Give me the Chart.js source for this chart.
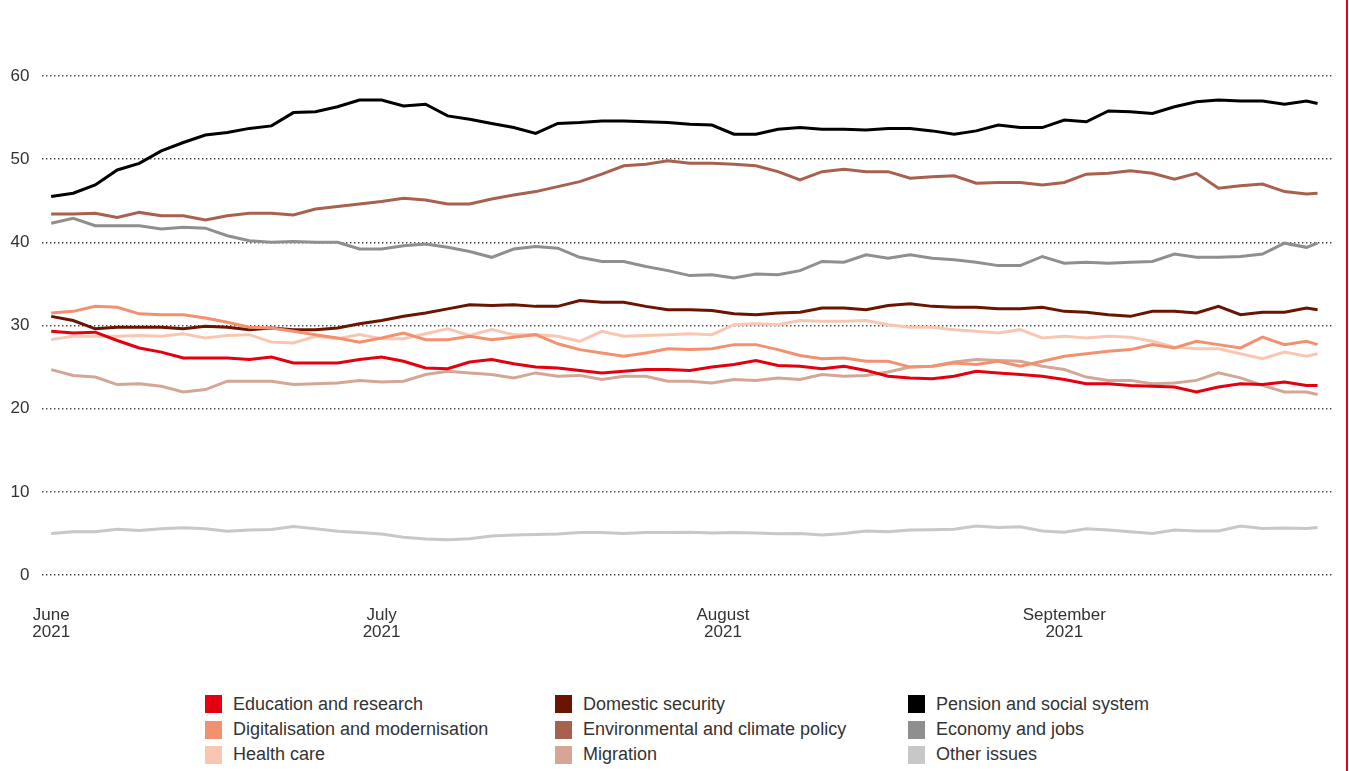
<!DOCTYPE html>
<html><head><meta charset="utf-8">
<script src="https://cdn.jsdelivr.net/npm/chart.js@4/dist/chart.umd.min.js"></script>
<style>
html,body{margin:0;padding:0;background:#fff;width:1349px;height:771px;overflow:hidden;font-family:"Liberation Sans",Arial,sans-serif;}
#wrap{position:absolute;left:0;top:0;width:1349px;height:680px;}
#redline{position:absolute;left:1346px;top:0;width:2px;height:771px;background:#e4001b;}
.li{position:absolute;height:20px;display:flex;align-items:center;font-size:18px;color:#333;white-space:nowrap;}
.li .box{display:inline-block;width:17px;height:18px;margin-right:11px;}
</style></head><body>
<div id="wrap"><canvas id="c" width="1349" height="680"></canvas></div>
<div id="redline"></div>
<div id="legend"></div>
<script>
// x positions: days since 1 June 2021
const days = [0,2,4,6,8,10,12,14,16,18,20,22,24,26,28,30,32,34,36,38,40,42,44,46,48,50,52,54,56,58,60,62,64,66,68,70,72,74,76,78,80,82,84,86,88,90,92,94,96,98,100,102,104,106,108,110,112,114,115];
const tickDays = [0,30,61,92];
const tickLabels = [["June","2021"],["July","2021"],["August","2021"],["September","2021"]];

const seriesNames = ["Education and research","Digitalisation and modernisation","Health care","Domestic security","Environmental and climate policy","Migration","Pension and social system","Economy and jobs","Other issues"];
const seriesColors = ["#e3000f","#f2916f","#f9c6b1","#6b1400","#a8604f","#d3a696","#000000","#8f8f8f","#c8c8c8"];
const legendColumns = [["Education and research","Digitalisation and modernisation","Health care"],["Domestic security","Environmental and climate policy","Migration"],["Pension and social system","Economy and jobs","Other issues"]];

const education = [29.3,29.1,29.2,28.2,27.3,26.8,26.1,26.1,26.1,25.9,26.2,25.5,25.5,25.5,25.9,26.2,25.7,24.9,24.8,25.6,25.9,25.4,25.0,24.9,24.6,24.3,24.5,24.7,24.7,24.6,25.0,25.3,25.8,25.2,25.1,24.8,25.1,24.6,23.9,23.7,23.6,23.9,24.5,24.3,24.1,23.9,23.5,23.0,23.0,22.8,22.7,22.6,22.0,22.6,23.0,22.9,23.2,22.8,22.8];
const digitalisation = [31.5,31.7,32.3,32.2,31.4,31.3,31.3,30.9,30.4,29.8,29.7,29.3,28.9,28.5,28.0,28.5,29.1,28.3,28.3,28.7,28.3,28.6,28.9,27.8,27.1,26.7,26.3,26.7,27.2,27.1,27.2,27.7,27.7,27.1,26.4,26.0,26.1,25.7,25.7,25.0,25.1,25.5,25.3,25.7,25.1,25.7,26.3,26.6,26.9,27.1,27.7,27.3,28.1,27.7,27.3,28.6,27.7,28.1,27.7];
const healthCare = [28.3,28.7,28.7,28.7,28.8,28.7,29.0,28.5,28.8,28.9,28.0,27.9,28.7,28.4,28.9,28.4,28.4,29.0,29.6,28.8,29.5,28.9,28.9,28.7,28.1,29.3,28.7,28.8,28.9,29.0,28.9,30.1,30.2,30.1,30.6,30.5,30.5,30.6,30.1,29.8,29.8,29.5,29.3,29.1,29.5,28.5,28.7,28.5,28.7,28.6,28.1,27.4,27.2,27.2,26.6,26.0,26.8,26.3,26.6];
const domesticSecurity = [31.1,30.6,29.6,29.8,29.8,29.8,29.6,29.9,29.8,29.5,29.7,29.5,29.5,29.7,30.2,30.6,31.1,31.5,32.0,32.5,32.4,32.5,32.3,32.3,33.0,32.8,32.8,32.3,31.9,31.9,31.8,31.4,31.3,31.5,31.6,32.1,32.1,31.9,32.4,32.6,32.3,32.2,32.2,32.0,32.0,32.2,31.7,31.6,31.3,31.1,31.7,31.7,31.5,32.3,31.3,31.6,31.6,32.1,31.9];
const environment = [43.4,43.4,43.5,43.0,43.6,43.2,43.2,42.7,43.2,43.5,43.5,43.3,44.0,44.3,44.6,44.9,45.3,45.1,44.6,44.6,45.2,45.7,46.1,46.7,47.3,48.2,49.2,49.4,49.8,49.5,49.5,49.4,49.2,48.5,47.5,48.5,48.8,48.5,48.5,47.7,47.9,48.0,47.1,47.2,47.2,46.9,47.2,48.2,48.3,48.6,48.3,47.6,48.3,46.5,46.8,47.0,46.1,45.8,45.9];
const migration = [24.7,24.0,23.8,22.9,23.0,22.7,22.0,22.3,23.3,23.3,23.3,22.9,23.0,23.1,23.4,23.2,23.3,24.1,24.5,24.3,24.1,23.7,24.3,23.9,24.0,23.5,23.9,23.9,23.3,23.3,23.1,23.5,23.4,23.7,23.5,24.1,23.9,24.0,24.4,25.0,25.1,25.6,25.9,25.8,25.7,25.1,24.7,23.8,23.4,23.4,23.0,23.1,23.4,24.3,23.7,22.8,22.0,22.0,21.7];
const pension = [45.5,45.9,46.9,48.7,49.5,51.0,52.0,52.9,53.2,53.7,54.0,55.6,55.7,56.3,57.1,57.1,56.4,56.6,55.2,54.8,54.3,53.8,53.1,54.3,54.4,54.6,54.6,54.5,54.4,54.2,54.1,53.0,53.0,53.6,53.8,53.6,53.6,53.5,53.7,53.7,53.4,53.0,53.4,54.1,53.8,53.8,54.7,54.5,55.8,55.7,55.5,56.3,56.9,57.1,57.0,57.0,56.6,57.0,56.7];
const economy = [42.3,42.9,42.0,42.0,42.0,41.6,41.8,41.7,40.8,40.2,40.0,40.1,40.0,40.0,39.2,39.2,39.6,39.8,39.4,38.9,38.2,39.2,39.5,39.3,38.2,37.7,37.7,37.1,36.6,36.0,36.1,35.7,36.2,36.1,36.6,37.7,37.6,38.5,38.1,38.5,38.1,37.9,37.6,37.2,37.2,38.3,37.5,37.6,37.5,37.6,37.7,38.6,38.2,38.2,38.3,38.6,39.9,39.4,39.9];
const otherIssues = [5.0,5.2,5.2,5.5,5.35,5.55,5.68,5.55,5.27,5.4,5.47,5.84,5.55,5.27,5.1,4.94,4.53,4.32,4.24,4.36,4.69,4.81,4.86,4.94,5.1,5.1,5.0,5.1,5.1,5.14,5.05,5.12,5.05,4.95,5.0,4.8,5.0,5.28,5.2,5.4,5.45,5.5,5.9,5.7,5.8,5.3,5.15,5.55,5.4,5.2,5.0,5.4,5.3,5.3,5.9,5.6,5.65,5.6,5.7];

const seriesValues = [education,digitalisation,healthCare,domesticSecurity,environment,migration,pension,economy,otherIssues];

const FONT = '"Liberation Sans", Arial, sans-serif';
const datasets = seriesNames.map((name,i)=>({
  label:name,
  data: days.map((d,j)=>({x:d,y:seriesValues[i][j]})),
  borderColor: seriesColors[i],
  backgroundColor: seriesColors[i],
  borderWidth: 3,
  pointRadius: 0,
  tension: 0,
  fill:false
}));

new Chart(document.getElementById('c'),{
  type:'line',
  data:{datasets},
  options:{
    responsive:false,
    animation:false,
    layout:{padding:{top:76,right:16,left:0,bottom:0}},
    plugins:{legend:{display:false},tooltip:{enabled:false}},
    scales:{
      x:{
        type:'linear', min:-0.8, max:116.4,
        grid:{display:false,drawTicks:false},
        border:{display:false},
        afterBuildTicks:(s)=>{ s.ticks = tickDays.map(v=>({value:v})); },
        afterFit:(s)=>{ s.height = 105; },
        ticks:{
          autoSkip:false, maxRotation:0, minRotation:0, padding:32,
          color:'#333', font:{family:FONT,size:17,lineHeight:1.0},
          callback:(v)=>{ const i = tickDays.indexOf(v); return i>=0 ? tickLabels[i] : ''; }
        }
      },
      y:{
        min:0, max:60,
        afterFit:(s)=>{ s.width = 40; },
        border:{display:false, dash:[1.4,2.6]},
        grid:{color:'#444', lineWidth:1.4, drawTicks:false, borderDash:[1.4,2.6]},
        ticks:{stepSize:10, padding:13, color:'#333', font:{family:FONT,size:17}}
      }
    }
  }
});

// HTML legend built from arrays
const legendX = [205,555,908];
const legendY = [704,729.5,754.5];
const lg = document.getElementById('legend');
legendColumns.forEach((col,ci)=>{
  col.forEach((name,ri)=>{
    const idx = seriesNames.indexOf(name);
    const d = document.createElement('div');
    d.className='li';
    d.style.left = legendX[ci]+'px';
    d.style.top = (legendY[ri]-10)+'px';
    const b = document.createElement('span');
    b.className='box'; b.style.background = seriesColors[idx];
    d.appendChild(b);
    d.appendChild(document.createTextNode(name));
    lg.appendChild(d);
  });
});
</script></body></html>
